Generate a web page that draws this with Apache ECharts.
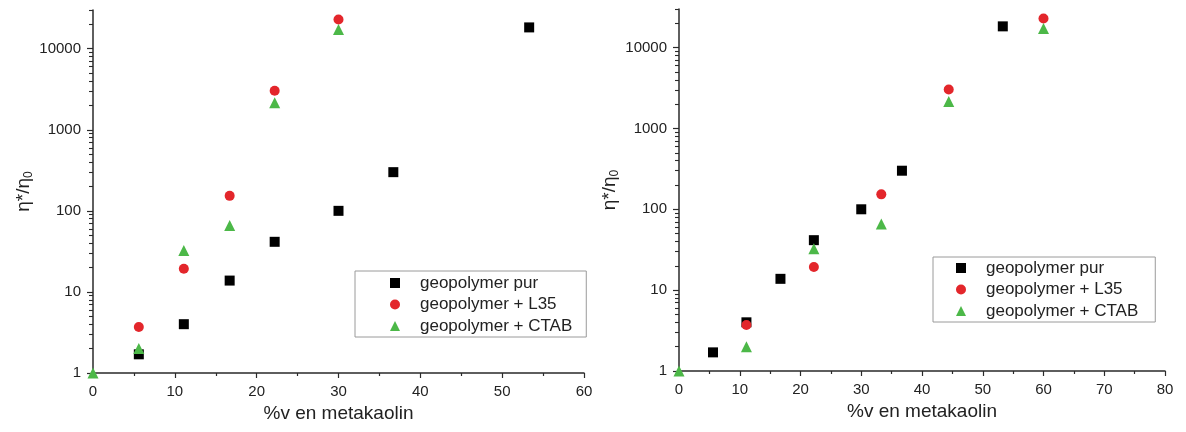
<!DOCTYPE html>
<html>
<head>
<meta charset="utf-8">
<script src="https://cdn.jsdelivr.net/npm/echarts@6/dist/echarts.min.js"></script>
<style>html,body{margin:0;padding:0;background:#fff}#c{width:1186px;height:432px}</style>
</head>
<body>
<div id="c"></div>
<script>
// ---- data ----
const seriesNames = ['geopolymer pur', 'geopolymer + L35', 'geopolymer + CTAB'];
const purX = [5.6, 11.1, 16.7, 22.2, 30, 36.7, 53.3];
const purY = [1.7, 4.0, 13.8, 41.5, 100, 300, 18300];
const l35XLeft = [5.6, 11.1, 16.7, 22.2, 30];
const l35XRight = [11.1, 22.2, 33.3, 44.4, 60];
const l35Y = [3.7, 19.3, 153, 3030, 22900];
const ctabXLeft = [0, 5.6, 11.1, 16.7, 22.2, 30];
const ctabXRight = [0, 11.1, 22.2, 33.3, 44.4, 60];
const ctabY = [1, 2.0, 32.5, 66, 2150, 17200];
const yMajorTicks = [1, 10, 100, 1000, 10000];
const yMinorTicks = [];
for (let k = 0; k <= 4; k++) for (let m = 2; m <= 9; m++) { const v = m * Math.pow(10, k); if (v <= 30000) yMinorTicks.push(v); }

const zip = (xs, ys) => xs.map((x, i) => [x, ys[i]]);
const font = 'Liberation Sans, Arial, sans-serif';
const axisColor = '#2a2a2a';
const labelStyle = { color: '#222', fontSize: 15, fontFamily: font };

function xAxisFor(grid, max) {
  return {
    type: 'value', gridIndex: grid, min: 0, max: max, interval: 10,
    name: '%v en metakaolin', nameLocation: 'middle', nameGap: 30,
    nameTextStyle: { color: '#222', fontSize: 19, fontFamily: font },
    axisLine: { onZero: false, lineStyle: { color: axisColor, width: 1.5 } },
    axisTick: { show: true, length: 5, lineStyle: { color: axisColor, width: 1.2 } },
    minorTick: { show: true, splitNumber: 2, length: 3, lineStyle: { color: axisColor, width: 1.2 } },
    axisLabel: Object.assign({ margin: 11 }, labelStyle),
    splitLine: { show: false }
  };
}
function yAxisFor(grid) {
  return {
    type: 'log', gridIndex: grid, min: 1, max: 30000, logBase: 10,
    name: '{a|η*/η}{s|0}', nameLocation: 'middle', nameGap: 58, nameRotate: 90,
    nameTextStyle: { rich: { a: { color: '#222', fontSize: 19, fontFamily: font }, s: { color: '#222', fontSize: 12, fontFamily: font, padding: [10, 0, 0, 0] } } },
    axisLine: { onZero: false, lineStyle: { color: axisColor, width: 1.5 } },
    axisTick: { show: true, length: 6, customValues: yMajorTicks, lineStyle: { color: axisColor, width: 1.2 } },
    axisLabel: Object.assign({ margin: 12, formatter: v => String(Math.round(v)), customValues: yMajorTicks }, labelStyle),
    splitLine: { show: false }
  };
}
function yMinorAxisFor(grid) {
  return {
    type: 'log', gridIndex: grid, min: 1, max: 30000, logBase: 10, position: 'left',
    axisLine: { show: false },
    axisTick: { show: true, length: 4, customValues: yMinorTicks, lineStyle: { color: axisColor, width: 1.1 } },
    axisLabel: { show: false },
    splitLine: { show: false }
  };
}
function legendFor(left, top, pad) {
  return {
    left: left, top: top, orient: 'vertical',
    data: [
      { name: seriesNames[0], icon: 'rect' },
      { name: seriesNames[1], icon: 'circle' },
      { name: seriesNames[2], icon: 'triangle' }
    ],
    itemWidth: 10, itemHeight: 10, itemGap: 1.5,
    borderColor: '#9a9a9a', borderWidth: 1, borderRadius: 0,
    padding: pad, selectedMode: false,
    textStyle: { color: '#222', fontSize: 17, fontFamily: font, lineHeight: 20, padding: [0, 0, 0, 15] }
  };
}
function scatter(name, data, xi, yi, symbol, size, color) {
  return { type: 'scatter', name: name, xAxisIndex: xi, yAxisIndex: yi, data: data, symbol: symbol, symbolSize: size,
    itemStyle: { color: color, opacity: 1 }, clip: false, z: 3 };
}
const cBlack = '#000000', cRed = '#e3262b', cGreen = '#4cb848';
const option = {
  animation: false,
  backgroundColor: '#fff',
  grid: [
    { left: 93, right: 602, top: 10, bottom: 59 },
    { left: 679, right: 21, top: 9, bottom: 61 }
  ],
  xAxis: [xAxisFor(0, 60), xAxisFor(1, 80)],
  yAxis: [yAxisFor(0), yAxisFor(1), yMinorAxisFor(0), yMinorAxisFor(1)],
  legend: [legendFor(355, 271, [2, 14, 1, 35]), legendFor(933, 257, [1, 17, 1, 23])],
  series: [
    scatter(seriesNames[0], zip(purX, purY), 0, 0, 'rect', 10, cBlack),
    scatter(seriesNames[1], zip(l35XLeft, l35Y), 0, 0, 'circle', 10, cRed),
    scatter(seriesNames[2], zip(ctabXLeft, ctabY), 0, 0, 'triangle', 11, cGreen),
    scatter(seriesNames[0], zip(purX, purY), 1, 1, 'rect', 10, cBlack),
    scatter(seriesNames[1], zip(l35XRight, l35Y), 1, 1, 'circle', 10, cRed),
    scatter(seriesNames[2], zip(ctabXRight, ctabY), 1, 1, 'triangle', 11, cGreen)
  ]
};
const chart = echarts.init(document.getElementById('c'), null, { renderer: 'canvas' });
chart.setOption(option);
</script>
</body>
</html>
